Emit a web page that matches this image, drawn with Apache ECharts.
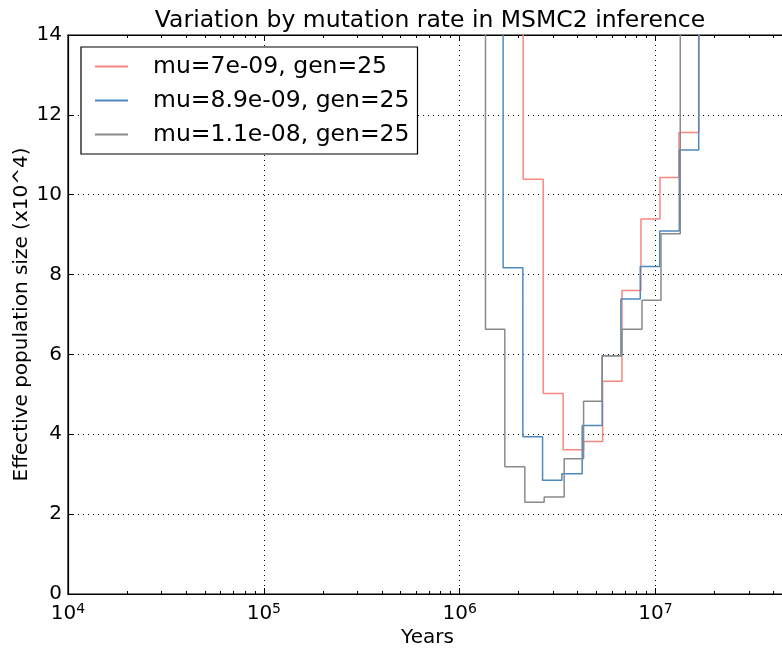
<!DOCTYPE html>
<html>
<head>
<meta charset="utf-8">
<script src="https://cdn.jsdelivr.net/npm/echarts@6/dist/echarts.min.js"></script>
<style>html,body{margin:0;padding:0;background:#fff}#c{width:782px;height:648px}</style>
</head>
<body>
<div id="c"></div>
<script>
// Series step data: [years, Ne (x10^4)], value holds from this x to the next
const grayYears  = [1.07e6, 1.354e6, 1.70e6, 2.151e6, 2.70e6, 3.416e6, 4.292e6, 5.34e6, 6.735e6, 8.522e6, 1.066e7, 1.337e7, 1.70e7];
const grayNe     = [20,     6.63,    3.19,   2.30,    2.43,   3.39,    4.83,    5.97,   6.63,    7.36,    9.02,    20,      20];
const blueYears  = [1.33e6, 1.666e6, 2.101e6, 2.649e6, 3.324e6, 4.222e6, 5.34e6, 6.656e6, 8.353e6, 1.05e7, 1.322e7, 1.661e7, 2.1e7];
const blueNe     = [20,     8.17,    3.94,    2.85,    3.01,    4.22,    5.97,   7.39,    8.20,    9.09,   11.12,   20,      20];
const redYears   = [1.68e6, 2.109e6, 2.668e6, 3.376e6, 4.292e6, 5.366e6, 6.735e6, 8.423e6, 1.053e7, 1.317e7, 1.666e7, 2.1e7];
const redNe      = [20,     10.39,   5.02,    3.61,    3.82,    5.33,    7.60,    9.39,    10.43,   11.56,   20,      20];
const seriesNames = ['mu=7e-09, gen=25', 'mu=8.9e-09, gen=25', 'mu=1.1e-08, gen=25'];
const yTicks = [0, 2, 4, 6, 8, 10, 12, 14];
const xMajorExps = [4, 5, 6, 7];
const minorMults = [2, 3, 4, 5, 6, 7, 8, 9];

const X_MIN = 1e4, X_MAX = 4.69e7;
const minorLogs = [];
for (let e = 4; e <= 7; e++) for (const m of minorMults) {
  const v = Math.log10(m * Math.pow(10, e));
  if (v < Math.log10(X_MAX)) minorLogs.push(v);
}
const zip = (a, b) => a.map((v, i) => [v, b[i]]);
const FONT = 'DejaVu Sans';

const chart = echarts.init(document.getElementById('c'), null, {renderer: 'canvas'});
const majorTick = {show: true, inside: true, length: 6, lineStyle: {color: '#000', width: 1}};
const baseLine = {show: true, onZero: false, lineStyle: {color: '#000', width: 1.2}};
const minorTick = {show: true, inside: true, length: 3, customValues: minorLogs, lineStyle: {color: '#000', width: 1}};
chart.setOption({
  animation: false,
  backgroundColor: '#fff',
  title: {
    text: 'Variation by mutation rate in MSMC2 inference',
    left: 425, top: 4, textAlign: 'center',
    textStyle: {fontFamily: FONT, fontSize: 23.5, fontWeight: 'normal', color: '#000'}
  },
  grid: {left: 68, top: 35, right: -5, bottom: 54, outerBoundsMode: 'none', containLabel: false,
         show: true, borderColor: '#000', borderWidth: 1.2, backgroundColor: 'transparent'},
  legend: {
    data: seriesNames,
    orient: 'vertical', left: 81, top: 47,
    itemWidth: 33, itemHeight: 2, itemGap: 7,
    icon: 'rect',
    backgroundColor: '#fff',
    borderColor: '#000', borderWidth: 1.2, borderRadius: 0,
    padding: [6, 8, 6, 14],
    textStyle: {fontFamily: FONT, fontSize: 23.5, lineHeight: 27, color: '#000', padding: [0, 0, 0, 20]}
  },
  xAxis: [
    {
      type: 'log', logBase: 10, min: X_MIN, max: X_MAX, interval: 1, position: 'bottom',
      name: 'Years', nameLocation: 'middle', nameGap: 34, nameMoveOverlap: false,
      nameTextStyle: {fontFamily: FONT, fontSize: 20, color: '#000'},
      axisLine: baseLine, axisTick: majorTick,
      axisLabel: {
        margin: 8, showMaxLabel: false,
        formatter: v => {
          const e = Math.log10(v);
          const r = Math.round(e);
          if (Math.abs(e - r) > 1e-6 || xMajorExps.indexOf(r) < 0) return '';
          return '{b|10}{s|' + r + '}';
        },
        rich: {
          b: {fontFamily: FONT, fontSize: 20, color: '#000'},
          s: {fontFamily: FONT, fontSize: 14, color: '#000', padding: [0, 0, 10, 0]}
        }
      },
      splitLine: {show: true, lineStyle: {color: '#000', type: [1, 4], width: 1}},
      minorTick: {show: false}
    },
    {
      type: 'log', logBase: 10, min: X_MIN, max: X_MAX, interval: 1, position: 'top',
      axisLine: baseLine, axisTick: majorTick, axisLabel: {show: false}, splitLine: {show: false}
    },
    {
      type: 'value', min: 4, max: Math.log10(X_MAX), position: 'bottom', show: true,
      axisLine: {show: false, onZero: false}, axisLabel: {show: false}, splitLine: {show: false},
      axisTick: minorTick
    },
    {
      type: 'value', min: 4, max: Math.log10(X_MAX), position: 'top', show: true,
      axisLine: {show: false, onZero: false}, axisLabel: {show: false}, splitLine: {show: false},
      axisTick: minorTick
    }
  ],
  yAxis: [
    {
      type: 'value', min: 0, max: 14, interval: 2, position: 'left',
      name: 'Effective population size (x10^4)', nameLocation: 'middle', nameGap: 36, nameRotate: 90, nameMoveOverlap: false,
      nameTextStyle: {fontFamily: FONT, fontSize: 20, color: '#000'},
      axisLine: baseLine, axisTick: majorTick,
      axisLabel: {fontFamily: FONT, fontSize: 20, color: '#000', margin: 6, formatter: v => yTicks.indexOf(v) >= 0 ? String(v) : ''},
      splitLine: {show: true, lineStyle: {color: '#000', type: [1, 4], width: 1}}
    },
    {
      type: 'value', min: 0, max: 14, interval: 2, position: 'right',
      axisLine: baseLine, axisTick: majorTick, axisLabel: {show: false}, splitLine: {show: false}
    }
  ],
  series: [
    {name: seriesNames[0], type: 'line', step: 'end', data: zip(redYears, redNe), showSymbol: false, symbol: 'none', clip: true,
     lineStyle: {color: '#f7877f', width: 1.5}, itemStyle: {color: '#f7877f'}, z: 3},
    {name: seriesNames[1], type: 'line', step: 'end', data: zip(blueYears, blueNe), showSymbol: false, symbol: 'none', clip: true,
     lineStyle: {color: '#4f88bd', width: 1.5}, itemStyle: {color: '#4f88bd'}, z: 4},
    {name: seriesNames[2], type: 'line', step: 'end', data: zip(grayYears, grayNe), showSymbol: false, symbol: 'none', clip: true,
     lineStyle: {color: '#8a8a8a', width: 1.5}, itemStyle: {color: '#8a8a8a'}, z: 5}
  ]
});
</script>
</body>
</html>
